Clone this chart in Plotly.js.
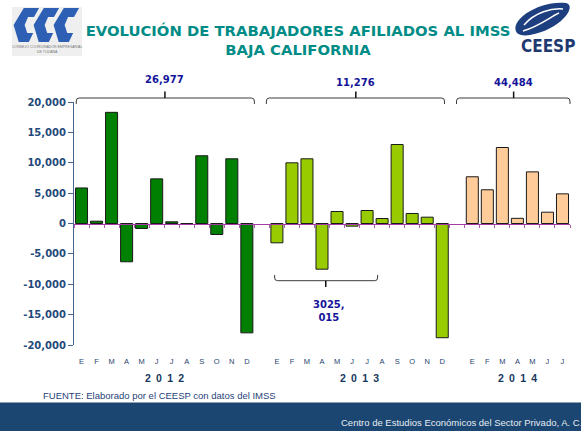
<!DOCTYPE html>
<html>
<head>
<meta charset="utf-8">
<script src="https://cdn.plot.ly/plotly-3.0.1.min.js"></script>
<style>html,body{margin:0;padding:0;background:#fff;}#chart{width:581px;height:431px;}</style>
</head>
<body>
<div id="chart"></div>
<script>
// ---- data ----
const years = ['2012', '2013', '2014'];
const months2012 = ['E','F','M','A','M','J','J','A','S','O','N','D'];
const months2013 = ['E','F','M','A','M','J','J','A','S','O','N','D'];
const months2014 = ['E','F','M','A','M','J','J'];
const values2012 = [5850, 380, 18300, -6300, -820, 7350, 280, 0, 11150, -1810, 10650, -18000];
const values2013 = [-3180, 9990, 10650, -7520, 1975, -440, 2140, 820, 13000, 1650, 1040, -18800];
const values2014 = [7690, 5550, 12510, 850, 8500, 1860, 4880];
const groupTotals = ['26,977', '11,276', '44,484'];
const lowerNote = '3025,<br>015';
const yTickVals = [-20000, -15000, -10000, -5000, 0, 5000, 10000, 15000, 20000];
const yTickText = ['-20,000', '-15,000', '-10,000', '-5,000', '0', '5,000', '10,000', '15,000', '20,000'];

// ---- geometry helpers (layout only) ----
const W = 581, H = 431, ML = 74, MR = 11, MT = 102, MB = 86;
const PW = W - ML - MR, PH = H - MT - MB;
const fx = px => (px - ML) / PW;
const fy = py => (H - MB - py) / PH;
const conv = s => s.replace(/(-?\d+\.?\d*),(-?\d+\.?\d*)/g, (m, a, b) => fx(+a).toFixed(5) + ',' + fy(+b).toFixed(5));

// ---- categories ----
const groups = [
  {months: months2012, values: values2012, color: '#008000'},
  {months: months2013, values: values2013, color: '#99CC00'},
  {months: months2014, values: values2014, color: '#FFCC99'}
];
const cats = [], catText = [];
groups.forEach((g, gi) => {
  g.ids = g.months.map((m, i) => years[gi] + '-' + i);
  g.start = cats.length;
  g.ids.forEach((id, i) => { cats.push(id); catText.push(g.months[i]); });
  g.end = cats.length - 1;
  if (gi < groups.length - 1) { cats.push('gap' + gi); catText.push(''); }
});
const N = cats.length;
const idxPx = i => ML + (i + 0.5) * PW / N;

const traces = groups.map((g, gi) => ({
  type: 'bar', x: g.ids, y: g.values, name: years[gi],
  marker: {color: g.color, line: {color: '#1a1a1a', width: 1}},
  hoverinfo: 'x+y', showlegend: false
}));
traces.push({type: 'scatter', mode: 'markers', x: cats, y: cats.map(() => null),
  xaxis: 'x2', yaxis: 'y', hoverinfo: 'skip', showlegend: false});

// ---- brackets ----
const topBr = [[-0.35, 11.5, 5.55, 79], [12.3, 24.15, 18.25, 82.5], [24.95, 32.5, 28.75, 82.5]];
const shapes = [];
const annotations = [];
const brColor = '#3a3a3a';
const ann = o => annotations.push(Object.assign({xref: 'paper', yref: 'paper', showarrow: false, xanchor: 'center', yanchor: 'middle'}, o));
topBr.forEach((b, i) => {
  const a = idxPx(b[0]), c = idxPx(b[1]), m = idxPx(b[2]), y = 98;
  shapes.push({type: 'path', xref: 'paper', yref: 'paper', line: {color: brColor, width: 1},
    path: conv(`M ${a},104 L ${a},101 Q ${a},${y} ${a+3},${y} L ${c-3},${y} Q ${c},${y} ${c},101 L ${c},104`)});
  shapes.push({type: 'path', xref: 'paper', yref: 'paper', line: {color: '#111', width: 1.5},
    path: conv(`M ${m},${y} L ${m},91.5`)});
  ann({x: fx(m), y: fy(b[3]), text: '<b>' + groupTotals[i] + '</b>',
    font: {family: 'DejaVu Sans', size: 10, color: '#15159a'}});
});
{
  const a = idxPx(12.85), c = idxPx(19.7), m = idxPx(16.25), y = 280.7;
  shapes.push({type: 'path', xref: 'paper', yref: 'paper', line: {color: brColor, width: 1},
    path: conv(`M ${a},275 L ${a},278 Q ${a},${y} ${a+3},${y} L ${c-3},${y} Q ${c},${y} ${c},278 L ${c},275`)});
  shapes.push({type: 'path', xref: 'paper', yref: 'paper', line: {color: '#111', width: 1.5},
    path: conv(`M ${m},${y} L ${m},287`)});
  ann({x: fx(idxPx(16.45)), y: fy(310.5), text: '<b>' + lowerNote + '</b>',
    font: {family: 'DejaVu Sans', size: 10, color: '#15159a'}});
}

// year labels
groups.forEach((g, gi) => {
  ann({xref: 'x', x: (g.start + g.end) / 2, y: fy(377.5),
    text: '<b>' + years[gi].split('').join('\u2002') + '</b>',
    font: {family: 'Liberation Sans', size: 10.5, color: '#17375E'}});
});

// source + footer
shapes.push({type: 'rect', xref: 'paper', yref: 'paper', x0: fx(0), x1: fx(W), y0: fy(H), y1: fy(402.5),
  fillcolor: '#1B4671', line: {width: 0}, layer: 'below'});
ann({x: fx(41), y: fy(395.5), xanchor: 'left',
  text: 'FUENTE: Elaborado por el CEESP con datos del IMSS',
  font: {family: 'Liberation Sans', size: 9.5, color: '#1F3F7A'}});
ann({x: fx(339), y: fy(422), xanchor: 'left',
  text: 'Centro de Estudios Económicos del Sector Privado, A. C.',
  font: {family: 'Liberation Sans', size: 9.5, color: '#E6ECF4'}});

// logos
shapes.push({type: 'rect', xref: 'paper', yref: 'paper', x0: fx(12), x1: fx(82), y0: fy(56), y1: fy(7),
  fillcolor: '#EFEFEF', line: {width: 0}, layer: 'below'});
const cPoly = [[8,0],[26,0],[20,9],[13,9],[9,17],[12,25],[19,25],[14,34],[2,34],[-4,17]];
[17, 37, 57].forEach(ox => {
  const pts = cPoly.map(p => `${ox + p[0]*0.85},${8 + p[1]}`);
  shapes.push({type: 'path', xref: 'paper', yref: 'paper', fillcolor: '#2D5FB4', line: {width: 0},
    path: conv('M ' + pts.join(' L ') + ' Z')});
});
ann({x: fx(47), y: fy(49), text: 'CONSEJO COORDINADOR EMPRESARIAL<br>DE TIJUANA',
  font: {family: 'Liberation Sans', size: 3.5, color: '#777'}});
shapes.push({type: 'path', xref: 'paper', yref: 'paper', fillcolor: '#1E3F7F', line: {width: 0},
  path: conv('M 517,33 C 508,20 540,0 566,3 C 578,6 560,30 530,35 C 524,36 519,35 517,33 Z')});
shapes.push({type: 'path', xref: 'paper', yref: 'paper', line: {color: '#ffffff', width: 1.5},
  path: conv('M 524,25 C 535,12 552,8 563,9')});
shapes.push({type: 'path', xref: 'paper', yref: 'paper', line: {color: '#ffffff', width: 1.5},
  path: conv('M 523,31 C 540,26 550,17 559,13')});
ann({x: fx(519), y: fy(45.5), xanchor: 'left', text: '<b>CEESP</b>',
  font: {family: 'DejaVu Sans Condensed', size: 17, color: '#1E3A70'}});

const layout = {
  width: W, height: H,
  margin: {l: ML, r: MR, t: MT, b: MB, pad: 0},
  paper_bgcolor: '#ffffff', plot_bgcolor: 'rgba(0,0,0,0)',
  barmode: 'overlay', bargap: 0.2,
  title: {text: 'EVOLUCIÓN DE TRABAJADORES AFILIADOS AL IMSS<br>BAJA CALIFORNIA',
    xref: 'container', yref: 'container', x: 298 / W, xanchor: 'center', y: 1 - 36 / H, yanchor: 'middle',
    font: {family: 'DejaVu Sans', size: 14.8, color: '#008C86', weight: 'bold'}},
  xaxis: {type: 'category', categoryorder: 'array', categoryarray: cats, range: [-0.5, N - 0.5],
    tickmode: 'array', tickvals: cats, ticktext: catText, ticks: '', showline: false, showgrid: false,
    zeroline: false, ticklabelstandoff: 10,
    tickfont: {family: 'Liberation Sans', size: 7.5, color: '#1F3F6F'}, fixedrange: true},
  xaxis2: {type: 'category', categoryorder: 'array', categoryarray: cats, range: [-0.5, N - 0.5],
    overlaying: 'x', anchor: 'free', position: 0.5, showline: true, linecolor: '#A43CA4', linewidth: 1.5,
    ticks: 'outside', tickson: 'boundaries', ticklen: 3, tickcolor: '#B45AB4', tickwidth: 1,
    showticklabels: false, showgrid: false, zeroline: false},
  yaxis: {range: [-20000, 20000], tickmode: 'array', tickvals: yTickVals, ticktext: yTickText,
    showline: true, linecolor: '#46658F', linewidth: 1, ticks: 'outside', ticklen: 5, tickcolor: '#46658F',
    showgrid: false, zeroline: false,
    tickfont: {family: 'DejaVu Sans', size: 10, color: '#1F4A7A', weight: 'bold'}},
  shapes: shapes,
  annotations: annotations
};

Plotly.newPlot('chart', traces, layout, {displayModeBar: false, staticPlot: true});
</script>
</body>
</html>
